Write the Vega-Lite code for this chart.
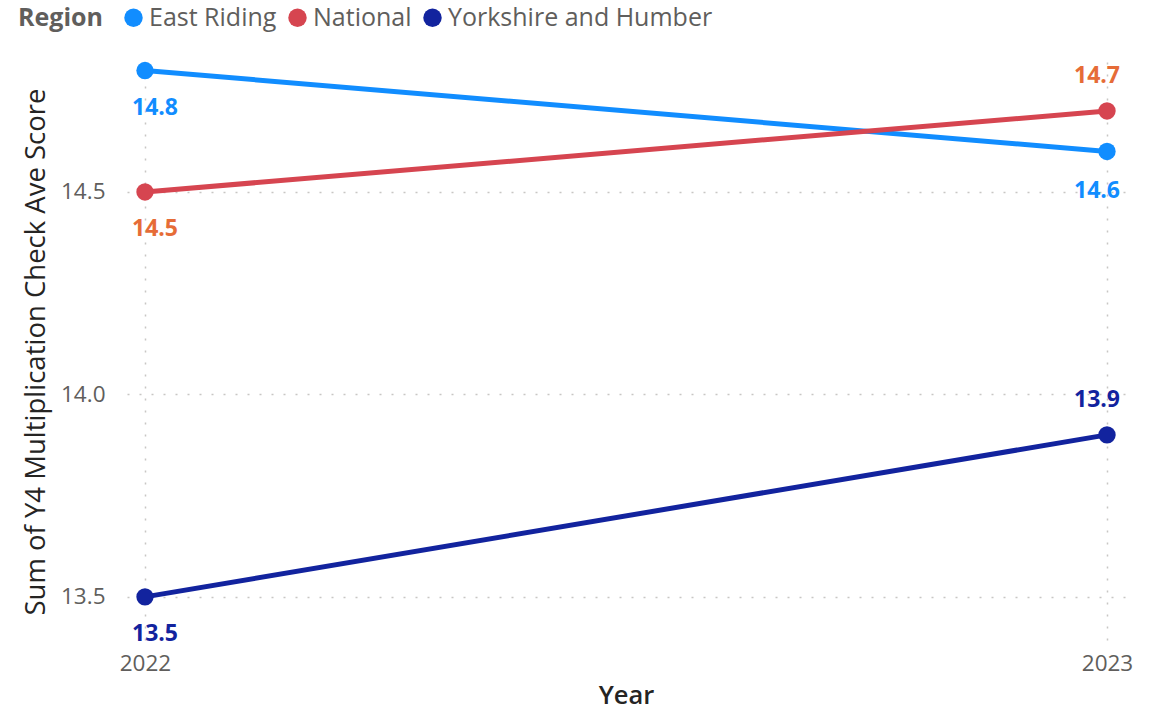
{
  "$schema": "https://vega.github.io/schema/vega-lite/v6.json",
  "width": 998,
  "height": 579,
  "autosize": {"type": "none"},
  "padding": {"left": 127, "top": 62, "right": 40, "bottom": 69},
  "background": "white",
  "config": {"font": "Open Sans", "view": {"stroke": null}},
  "data": {
    "values": [
      {"Year": "2022", "Region": "East Riding", "Score": 14.8},
      {"Year": "2023", "Region": "East Riding", "Score": 14.6},
      {"Year": "2022", "Region": "National", "Score": 14.5},
      {"Year": "2023", "Region": "National", "Score": 14.7},
      {"Year": "2022", "Region": "Yorkshire and Humber", "Score": 13.5},
      {"Year": "2023", "Region": "Yorkshire and Humber", "Score": 13.9}
    ]
  },
  "encoding": {
    "x": {
      "field": "Year",
      "type": "ordinal",
      "scale": {"type": "point", "padding": 0.0187},
      "axis": {
        "labelAngle": 0,
        "domain": false,
        "ticks": false,
        "grid": true,
        "gridColor": "#C8C6C4",
        "gridDash": [2, 10],
        "gridWidth": 1.5,
        "labelPadding": 11,
        "labelFontSize": 22.5,
        "labelColor": "#605E5C",
        "title": "Year",
        "titleFontSize": 25.5,
        "titleFontWeight": 600,
        "titleColor": "#252423",
        "titlePadding": 9
      }
    },
    "y": {
      "field": "Score",
      "type": "quantitative",
      "scale": {"domain": [13.391, 14.821], "zero": false, "nice": false},
      "axis": {
        "values": [13.5, 14.0, 14.5],
        "format": ".1f",
        "domain": false,
        "ticks": false,
        "grid": true,
        "gridColor": "#C8C6C4",
        "gridDash": [2, 10],
        "gridWidth": 1.5,
        "labelPadding": 22,
        "labelFontSize": 22.5,
        "labelColor": "#605E5C",
        "title": "Sum of Y4 Multiplication Check Ave Score",
        "titleFontSize": 27.5,
        "titleFontWeight": "normal",
        "titleColor": "#252423",
        "titlePadding": 10
      }
    },
    "color": {
      "field": "Region",
      "type": "nominal",
      "scale": {
        "domain": ["East Riding", "National", "Yorkshire and Humber"],
        "range": ["#118DFF", "#D64550", "#12239E"]
      },
      "legend": {
        "orient": "none",
        "legendX": -109,
        "legendY": -57,
        "direction": "horizontal",
        "title": "Region",
        "titleOrient": "left",
        "titleFontSize": 25,
        "titleFontWeight": "bold",
        "titleColor": "#605E5C",
        "titlePadding": 18,
        "labelFontSize": 25,
        "labelColor": "#605E5C",
        "labelLimit": 500,
        "labelOffset": 3,
        "columnPadding": 8,
        "symbolType": "circle",
        "symbolSize": 340,
        "symbolStrokeWidth": 0,
        "symbolOpacity": 1
      }
    }
  },
  "layer": [
    {"mark": {"type": "line", "strokeWidth": 5}},
    {"mark": {"type": "point", "filled": true, "size": 300, "opacity": 1}},
    {
      "transform": [{"filter": "datum.Year == '2022'"}],
      "mark": {"type": "text", "fontSize": 23, "fontWeight": "bold", "dy": 37, "dx": 10},
      "encoding": {
        "text": {"field": "Score", "type": "quantitative", "format": ".1f"},
        "color": {"condition": {"test": "datum.Region === 'National'", "value": "#E66C37"}, "field": "Region", "type": "nominal"}
      }
    },
    {
      "transform": [{"filter": "datum.Year == '2023' && datum.Region == 'East Riding'"}],
      "mark": {"type": "text", "fontSize": 23, "fontWeight": "bold", "dy": 40, "dx": -10},
      "encoding": {
        "text": {"field": "Score", "type": "quantitative", "format": ".1f"},
        "color": {"condition": {"test": "datum.Region === 'National'", "value": "#E66C37"}, "field": "Region", "type": "nominal"}
      }
    },
    {
      "transform": [{"filter": "datum.Year == '2023' && datum.Region != 'East Riding'"}],
      "mark": {"type": "text", "fontSize": 23, "fontWeight": "bold", "dy": -35, "dx": -10},
      "encoding": {
        "text": {"field": "Score", "type": "quantitative", "format": ".1f"},
        "color": {"condition": {"test": "datum.Region === 'National'", "value": "#E66C37"}, "field": "Region", "type": "nominal"}
      }
    }
  ]
}
